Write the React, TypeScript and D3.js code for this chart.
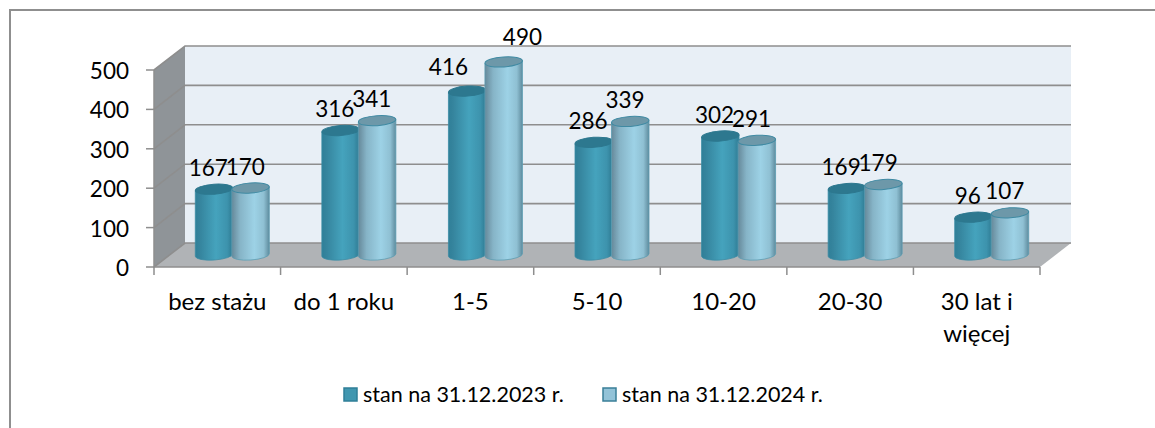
import React from "react";
import * as d3 from "d3";

const categories = ["bez stażu", "do 1 roku", "1-5", "5-10", "10-20", "20-30", "30 lat i|więcej"];
const series2023 = [167, 316, 416, 286, 302, 169, 96];
const series2024 = [170, 341, 490, 339, 291, 179, 107];
const yTicks = [0, 100, 200, 300, 400, 500];
const legendLabels = ["stan na 31.12.2023 r.", "stan na 31.12.2024 r."];

const W = 1155, H = 428;
const FONT = "Lato, Carlito, Calibri, sans-serif";
const x0 = 154, x1 = 1040, dx = 31, dy = -24;
const y = d3.scaleLinear().domain([0, 500]).range([267, 70]);
const band = d3.scaleBand<number>().domain(d3.range(7)).range([x0, x1]);
const barW = 37.5, rx = barW / 2, ry = 5;
const midX = 15, midY = -12;
const TILT = 4;

function Cyl({ cx, v, grad, top, topStroke, edge }: any) {
  const yTop = y(v) + midY;
  const yBot = y(0) + midY;
  const l = cx - rx, r = cx + rx;
  const s = rx * Math.sin((TILT * Math.PI) / 180);
  return (
    <g>
      <path
        d={`M${l},${yTop + s} L${l},${yBot + s} A${rx},${ry} ${-TILT} 0 0 ${r},${yBot - s} L${r},${yTop - s} Z`}
        fill={`url(#${grad})`}
        stroke={edge}
        strokeWidth={0.8}
      />
      <ellipse cx={cx} cy={yTop} rx={rx} ry={ry} fill={top} stroke={topStroke} strokeWidth={1} transform={`rotate(${-TILT} ${cx} ${yTop})`} />
    </g>
  );
}

export default function App() {
  const bw = band.bandwidth();
  return (
    <svg width={W} height={H} style={{ position: "absolute", left: 0, top: 0, background: "#fff" }} fontFamily={FONT}>
      <defs>
        <linearGradient id="g1" x1="0" x2="1" y1="0" y2="0">
          <stop offset="0" stopColor="#2f7f98" />
          <stop offset="0.12" stopColor="#35849d" />
          <stop offset="0.55" stopColor="#45a3bd" />
          <stop offset="0.85" stopColor="#3d93ad" />
          <stop offset="1" stopColor="#2e7a92" />
        </linearGradient>
        <linearGradient id="g2" x1="0" x2="1" y1="0" y2="0">
          <stop offset="0" stopColor="#66899a" />
          <stop offset="0.22" stopColor="#86b4c7" />
          <stop offset="0.6" stopColor="#9dd2e6" />
          <stop offset="0.85" stopColor="#8fc0d3" />
          <stop offset="1" stopColor="#5f8c9e" />
        </linearGradient>
        <filter id="soft" x="0" y="0" width="100%" height="100%" filterUnits="userSpaceOnUse" primitiveUnits="userSpaceOnUse">
          <feGaussianBlur stdDeviation="0.45" />
        </filter>
      </defs>

      <g style={{ filter: "blur(0.45px)" }}>
        {/* outer frame */}
        <path d={`M10,${H + 4} L10,10 L${W + 4},10`} fill="none" stroke="#8f8f8f" strokeWidth={2} />

        {/* walls */}
        <polygon points={`${x0 + dx},${y(500) + dy} ${x1 + dx},${y(500) + dy} ${x1 + dx},${y(0) + dy} ${x0 + dx},${y(0) + dy}`} fill="#e8eff6" />
        <polygon points={`${x0},${y(500)} ${x0 + dx},${y(500) + dy} ${x0 + dx},${y(0) + dy} ${x0},${y(0)}`} fill="#8f9498" />
        <polygon points={`${x0},${y(0)} ${x0 + dx},${y(0) + dy} ${x1 + dx},${y(0) + dy} ${x1},${y(0)}`} fill="#b0b3b6" />

        {/* gridlines */}
        {yTicks.map((t) => (
          <path
            key={t}
            d={`M${x0},${y(t)} L${x0 + dx},${y(t) + dy} L${x1 + dx},${y(t) + dy}`}
            fill="none"
            stroke="#8e8e8e"
            strokeWidth={1.6}
          />
        ))}

        {/* axes */}
        <path d={`M${x0},${y(500)} L${x0},${y(0)} L${x1},${y(0)}`} fill="none" stroke="#8e8e8e" strokeWidth={1.5} />
        {yTicks.map((t) => (
          <line key={t} x1={x0 - 8} x2={x0} y1={y(t)} y2={y(t)} stroke="#8e8e8e" strokeWidth={1.5} />
        ))}
        {d3.range(8).map((i) => {
          const px = i < 7 ? band(i)! : x1;
          return <line key={i} x1={px} x2={px} y1={y(0)} y2={y(0) + 8} stroke="#8e8e8e" strokeWidth={1.5} />;
        })}

        {/* bars */}
        {categories.map((_, i) => {
          const c = band(i)! + bw / 2 + midX;
          return (
            <g key={i}>
              <Cyl cx={c - rx + 0.5} v={series2023[i]} grad="g1" top="#2d788f" topStroke="#2d788f" edge="#3a8ba5" />
              <Cyl cx={c + rx - 0.5} v={series2024[i]} grad="g2" top="#6d98a9" topStroke="#3f8aa3" edge="#5c9db3" />
            </g>
          );
        })}

        {/* legend swatches */}
        <rect x={344} y={388} width={13} height={13} fill="#4197b0" stroke="#2f7f98" strokeWidth={1.5} />
        <rect x={603} y={388} width={13} height={13} fill="#93c3d8" stroke="#3a7f98" strokeWidth={1.5} />
      </g>

      {yTicks.map((t) => (
        <text key={t} x={129} y={y(t) + 9} textAnchor="end" fontSize={22.5} fill="#000">{t}</text>
      ))}

      {/* data labels: the 1-5 pair sits further apart in the reference */}
      {categories.map((_, i) => {
        const c = band(i)! + bw / 2 + midX;
        const wide = i === 2;
        return (
          <g key={i} fontSize={22.5} fill="#000" textAnchor="middle">
            <text x={c + (wide ? -37 : -24)} y={y(series2023[i]) + midY - (wide ? 16 : 13.5)}>{series2023[i]}</text>
            <text x={c + (wide ? 37 : 13)} y={y(series2024[i]) + midY - (wide ? 17 : 13.5)}>{series2024[i]}</text>
          </g>
        );
      })}

      {/* category labels */}
      {categories.map((cat, i) => {
        const c = band(i)! + bw / 2;
        return (
          <text key={i} x={c} y={310} fontSize={24} textAnchor="middle" fill="#000">
            {cat.split("|").map((p, j) => (
              <tspan key={j} x={c} dy={j ? 32 : 0}>{p}</tspan>
            ))}
          </text>
        );
      })}

      {/* legend labels */}
      <text x={363} y={402} fontSize={21.5} fill="#000">{legendLabels[0]}</text>
      <text x={622} y={402} fontSize={21.5} fill="#000">{legendLabels[1]}</text>
    </svg>
  );
}
